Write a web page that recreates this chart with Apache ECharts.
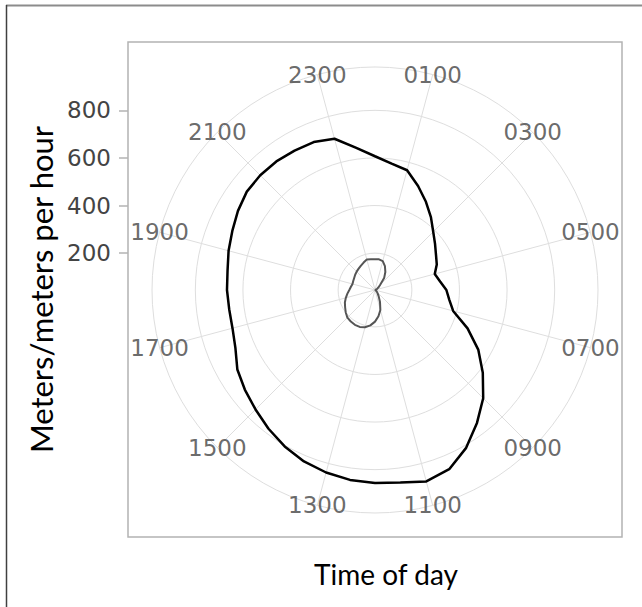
<!DOCTYPE html>
<html><head><meta charset="utf-8">
<script src="https://cdn.jsdelivr.net/npm/echarts@6/dist/echarts.min.js"></script>
<style>html,body{margin:0;padding:0;background:#fff}#c{width:642px;height:607px}</style>
</head><body><div id="c"></div>
<script>
// ---- data ----
const hours = [0,0.5,1,1.5,2,2.5,3,3.5,4,4.5,5,5.5,6,6.5,7,7.5,8,8.5,9,9.5,10,10.5,11,11.5,
               12,12.5,13,13.5,14,14.5,15,15.5,16,16.5,17,17.5,18,18.5,19,19.5,20,20.5,21,21.5,22,22.5,23,23.5];
const outerSeries = [607,581,566,518,473,431,391,363,341,326,305,321,345,360,385,466,546,616,688,749,811,860,878,861,
                     856,850,839,825,804,780,755,734,713,680,665,663,667,670,682,694,710,724,727,726,721,718,703,647];
const innerSeries = [174,175,171,154,132,108,75,64,56,51,48,46,45,45,46,47,49,52,57,64,76,100,132,156,
                     178,195,207,213,214,212,209,200,190,182,172,162,153,147,143,144,146,150,154,158,163,170,178,175];
const hourTicks = [1,3,5,7,9,11,13,15,17,19,21,23];
const hourLabels = ['0100','0300','0500','0700','0900','1100','1300','1500','1700','1900','2100','2300'];
const radialTicks = [200,400,600,800];
const yTitle = 'Meters/meters per hour';
const xTitle = 'Time of day';

// ---- layout ----
const CX = 375, CY = 290, R_OUT = 223;
const GRID_L = 128, GRID_T = 42, GRID_W = 494, GRID_H = 495;
const VMIN = Math.min(...outerSeries, ...innerSeries);
const VMAX = Math.max(...outerSeries, ...innerSeries);
const K = (R_OUT * 0.4 / 0.45) / (VMAX - VMIN);      // px per unit
const VOUT = VMIN + R_OUT / K;
const Y_MAX = VMIN + (CY - GRID_T) / K;
const Y_MIN = VMIN - (GRID_T + GRID_H - CY) / K;

const close = arr => hours.map((h, i) => [arr[i], h]).concat([[arr[0], hours[0]]]);

const GRID_C = '#dedede', TXT_C = '#444', TICK_FONT = 'DejaVu Sans', TITLE_FONT = 'Lato';

const chart = echarts.init(document.getElementById('c'), null, {renderer: 'svg'});
chart.setOption({
  animation: false,
  backgroundColor: '#fff',
  grid: {left: GRID_L, top: GRID_T, width: GRID_W, height: GRID_H, show: true,
         borderColor: '#b3b3b3', borderWidth: 1.5, backgroundColor: 'transparent'},
  xAxis: {type: 'value', min: 0, max: 1, axisLine: {show: false}, axisTick: {show: false},
          axisLabel: {show: false}, splitLine: {show: false},
          name: xTitle, nameLocation: 'middle', nameGap: 23,
          nameTextStyle: {fontFamily: TITLE_FONT, fontSize: 28, color: '#000', padding: [0, 0, 0, 22]}},
  yAxis: {type: 'value', min: Y_MIN, max: Y_MAX, position: 'left',
          axisLine: {show: false},
          axisTick: {show: true, length: 9, customValues: radialTicks, lineStyle: {color: '#b3b3b3', width: 1.5}},
          axisLabel: {show: true, customValues: radialTicks, margin: 17, fontFamily: TICK_FONT, fontSize: 23, color: TXT_C},
          splitLine: {show: false},
          name: yTitle, nameLocation: 'middle', nameGap: 64, nameRotate: 90,
          nameTextStyle: {fontFamily: TITLE_FONT, fontSize: 31, color: '#000'}},
  polar: {center: [CX, CY], radius: [0, R_OUT]},
  angleAxis: {type: 'value', min: 0, max: 24, startAngle: 90, clockwise: true,
              axisLine: {show: true, lineStyle: {color: GRID_C, width: 1}},
              axisTick: {show: false, customValues: hourTicks},
              axisLabel: {show: false, customValues: hourTicks},
              splitLine: {show: true, lineStyle: {color: GRID_C, width: 1}}},
  radiusAxis: {type: 'value', min: VMIN, max: VOUT,
               axisLine: {show: false},
               axisTick: {show: false, customValues: radialTicks},
               axisLabel: {show: false},
               splitLine: {show: true, lineStyle: {color: GRID_C, width: 1}}},
  graphic: [
    {type: 'line', shape: {x1: 6, y1: 5.5, x2: 642, y2: 5.5}, style: {stroke: '#8c8c8c', lineWidth: 2}, silent: true},
    {type: 'line', shape: {x1: 6.5, y1: 5, x2: 6.5, y2: 607}, style: {stroke: '#404040', lineWidth: 1.5}, silent: true}
  ],
  series: [
    {name: 'Hour labels', type: 'scatter', coordinateSystem: 'polar', silent: true, symbolSize: 0, z: 1,
     data: hourTicks.map(h => [VOUT, h]),
     label: {show: true, position: 'inside', fontFamily: TICK_FONT, fontSize: 23, color: TXT_C,
             formatter: p => hourLabels[p.dataIndex]}},
    {name: 'Outer', type: 'line', coordinateSystem: 'polar', data: close(outerSeries), symbol: 'none',
     smooth: false, lineStyle: {color: '#000', width: 2.5}, z: 3},
    {name: 'Inner', type: 'line', coordinateSystem: 'polar', data: close(innerSeries), symbol: 'none',
     smooth: false, lineStyle: {color: '#555', width: 2}, z: 3}
  ]
});
</script></body></html>
